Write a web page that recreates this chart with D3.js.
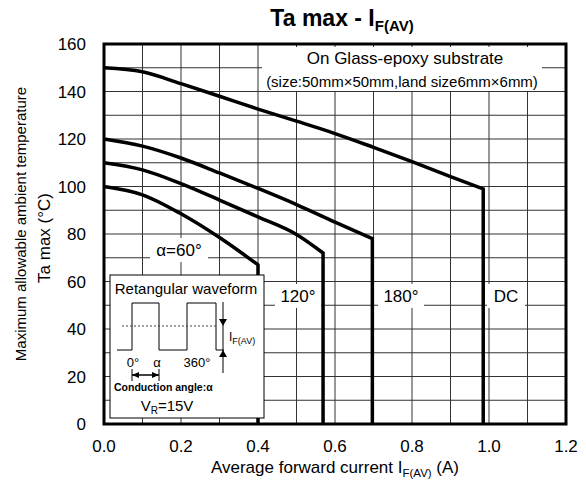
<!DOCTYPE html>
<html><head><meta charset="utf-8">
<script src="https://cdn.jsdelivr.net/npm/d3@7"></script>
<style>body{margin:0;background:#fff}svg{display:block;font-family:"Liberation Sans",Arial,sans-serif}</style>
</head><body><svg id="c" width="586" height="480"></svg>
<script>
// ---- data ----
const xTicks = [0.0,0.2,0.4,0.6,0.8,1.0,1.2];
const yTicks = [0,20,40,60,80,100,120,140,160];
const curDC   = [0,0.1,0.2,0.3,0.4,0.5,0.6,0.7,0.8,0.9,0.985,0.985];
const taDC    = [150,148.3,143.3,138,132.6,127.5,122.3,116.5,110.5,104.2,99,0];
const cur180  = [0,0.1,0.2,0.3,0.4,0.5,0.6,0.697,0.697];
const ta180   = [120,117,112,105.7,99.2,92.4,85,78,0];
const cur120  = [0,0.1,0.2,0.3,0.4,0.5,0.569,0.569];
const ta120   = [110,107,101.2,94.3,87.2,79.8,72,0];
const cur60   = [0,0.1,0.2,0.3,0.4,0.4];
const ta60    = [100,96.5,88.5,78.5,67,0];
const series = [
  {name:"DC", x:curDC, y:taDC},
  {name:"180°", x:cur180, y:ta180},
  {name:"120°", x:cur120, y:ta120},
  {name:"α=60°", x:cur60, y:ta60}
];

const svg = d3.select("#c");
const L=104, R=566, T=44, B=424;
const x = d3.scaleLinear().domain([0,1.2]).range([L,R]);
const y = d3.scaleLinear().domain([0,160]).range([B,T]);

// grid
const g = svg.append("g");
g.selectAll("line.v").data(d3.range(1,12).map(i=>i/10)).join("line")
  .attr("x1",d=>x(d)).attr("x2",d=>x(d)).attr("y1",T).attr("y2",B)
  .attr("stroke","#333").attr("stroke-width",1);
g.selectAll("line.h").data(d3.range(10,160,10)).join("line")
  .attr("y1",d=>y(d)).attr("y2",d=>y(d)).attr("x1",L).attr("x2",R)
  .attr("stroke","#333").attr("stroke-width",1);

// white label backgrounds over the grid
const bg = [[262,47,280,44],[150,238,58,24],[275,284,46,24],[378,284,46,24],[487,284,38,24]];
svg.selectAll("rect.bg").data(bg).join("rect")
  .attr("x",d=>d[0]).attr("y",d=>d[1]).attr("width",d=>d[2]).attr("height",d=>d[3]).attr("fill","#fff");

// curves: smooth part + vertical drop
const smooth = d3.line().curve(d3.curveMonotoneX);
svg.selectAll("path.s").data(series).join("path")
  .attr("d",s=>{
    const pts = s.x.map((v,i)=>[x(v),y(s.y[i])]);
    const last = pts.pop();
    return smooth(pts) + "L" + last[0] + "," + last[1];
  })
  .attr("fill","none").attr("stroke","#000").attr("stroke-width",3.5).attr("stroke-linejoin","miter");

// frame
svg.append("rect").attr("x",L).attr("y",T).attr("width",R-L).attr("height",B-T)
  .attr("fill","none").attr("stroke","#000").attr("stroke-width",3);

// axes labels
svg.selectAll("text.yt").data(yTicks).join("text")
  .attr("x",86).attr("y",d=>y(d)).attr("dy","0.36em").attr("text-anchor","end")
  .attr("font-size",17).text(d=>d);
svg.selectAll("text.xt").data(xTicks).join("text")
  .attr("x",d=>x(d)).attr("y",446).attr("dy","0.36em").attr("text-anchor","middle")
  .attr("font-size",17).text(d=>d.toFixed(1));

// title
const tt = svg.append("text").attr("x",342).attr("y",26).attr("text-anchor","middle")
  .attr("font-size",23).attr("font-weight","bold");
tt.append("tspan").text("Ta max - I");
tt.append("tspan").attr("font-size",15).attr("dy",5).text("F(AV)");

// x title
const xt = svg.append("text").attr("x",335).attr("y",473).attr("text-anchor","middle").attr("font-size",17);
xt.append("tspan").text("Average forward current I");
xt.append("tspan").attr("font-size",11.5).attr("dy",4).text("F(AV)");
xt.append("tspan").attr("dy",-4).text(" (A)");

// y titles
svg.append("text").attr("transform","translate(26,224) rotate(-90)").attr("text-anchor","middle")
  .attr("font-size",15).text("Maximum allowable ambient temperature");
svg.append("text").attr("transform","translate(50,238) rotate(-90)").attr("text-anchor","middle")
  .attr("font-size",17).text("Ta max (°C)");

// annotation
svg.append("text").attr("x",405).attr("y",64).attr("text-anchor","middle").attr("font-size",17).text("On Glass-epoxy substrate");
svg.append("text").attr("x",402).attr("y",87).attr("text-anchor","middle").attr("font-size",15).text("(size:50mm×50mm,land size6mm×6mm)");

// series labels
const lab = [{t:"α=60°",x:179,y:250},{t:"120°",x:298,y:296},{t:"180°",x:401,y:296},{t:"DC",x:506,y:296}];
svg.selectAll("text.lab").data(lab).join("text")
  .attr("x",d=>d.x).attr("y",d=>d.y).attr("dy","0.36em").attr("text-anchor","middle")
  .attr("font-size",17).text(d=>d.t);

// inset
const ins = svg.append("g");
ins.append("rect").attr("x",110).attr("y",275).attr("width",154).attr("height",143)
  .attr("fill","#fff").attr("stroke","#000").attr("stroke-width",1);
ins.append("text").attr("x",186).attr("y",294).attr("text-anchor","middle").attr("font-size",15).text("Retangular waveform");
ins.append("path").attr("d","M117,350 H132 V303 H159 V350 H187 V303 H216 V350 H224")
  .attr("fill","none").attr("stroke","#000").attr("stroke-width",1);
ins.append("line").attr("x1",122).attr("x2",217).attr("y1",326).attr("y2",326)
  .attr("stroke","#444").attr("stroke-width",1).attr("stroke-dasharray","2,2");
ins.append("line").attr("x1",223).attr("x2",223).attr("y1",302).attr("y2",373).attr("stroke","#000");
ins.append("path").attr("d","M219,319 L227,319 L223,326 Z").attr("fill","#000");
ins.append("path").attr("d","M219,357 L227,357 L223,350 Z").attr("fill","#000");
const ifl = ins.append("text").attr("x",229).attr("y",341).attr("font-size",12);
ifl.append("tspan").text("I");
ifl.append("tspan").attr("font-size",9).attr("dy",3).text("F(AV)");
ins.append("text").attr("x",133).attr("y",367).attr("text-anchor","middle").attr("font-size",13).text("0°");
ins.append("text").attr("x",157).attr("y",367).attr("text-anchor","middle").attr("font-size",13).text("α");
ins.append("text").attr("x",197).attr("y",367).attr("text-anchor","middle").attr("font-size",13).text("360°");
ins.append("line").attr("x1",132).attr("x2",132).attr("y1",369).attr("y2",381).attr("stroke","#000");
ins.append("line").attr("x1",159).attr("x2",159).attr("y1",369).attr("y2",381).attr("stroke","#000");
ins.append("line").attr("x1",132).attr("x2",159).attr("y1",375).attr("y2",375).attr("stroke","#000").attr("stroke-width",1.5);
ins.append("path").attr("d","M132,375 L139,372 L139,378 Z").attr("fill","#000");
ins.append("path").attr("d","M159,375 L152,372 L152,378 Z").attr("fill","#000");
ins.append("text").attr("x",114).attr("y",391).attr("font-size",10.5).attr("font-weight","bold").text("Conduction angle:α");
const vr = ins.append("text").attr("x",167).attr("y",411).attr("text-anchor","middle").attr("font-size",15);
vr.append("tspan").text("V");
vr.append("tspan").attr("font-size",10).attr("dy",3).text("R");
vr.append("tspan").attr("dy",-3).text("=15V");
</script></body></html>
